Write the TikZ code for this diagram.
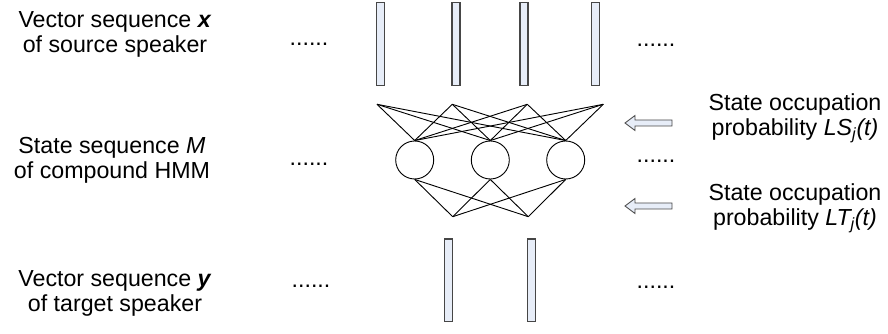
\documentclass[tikz,border=0pt]{standalone}
\usepackage{fontspec}
\setmainfont{Liberation Sans}
\usepackage{xcolor}
\usepackage{tikz}
\usetikzlibrary{arrows.meta, positioning}
\definecolor{barfill}{RGB}{231,237,248}
\definecolor{baredge}{RGB}{70,70,70}

\begin{document}
\begin{tikzpicture}[
  x=0.025cm, y=-0.025cm,
  font=\fontsize{16.5}{17.8}\selectfont,
  vecbar/.style={draw=baredge, fill=barfill, line width=0.9pt, minimum width=0.2cm, minimum height=2.07cm, inner sep=0pt},
  hmmstate/.style={draw, circle, minimum size=0.95cm, inner sep=0pt, line width=0.65pt},
  link/.style={line width=0.65pt},
  dots/.style={anchor=base, inner sep=0pt},
  side/.style={align=center, inner sep=0pt},
  occ/.style={draw=baredge, fill=barfill, line width=0.6pt, line join=miter}
]
  \useasboundingbox (0,0) rectangle (888,334);
  % vector sequences
  \node[vecbar] (x1) at (380.5,43.8) {};
  \node[vecbar] (x2) at (456,43.8) {};
  \node[vecbar] (x3) at (524,43.8) {};
  \node[vecbar] (x4) at (595.5,43.8) {};
  \node[vecbar] (y1) at (448.3,280.3) {};
  \node[vecbar] (y2) at (531.7,280.3) {};
  % compound HMM
  \coordinate (in1) at (377,104.3);
  \coordinate (in2) at (452.3,104.3);
  \coordinate (in3) at (527.3,104.3);
  \coordinate (in4) at (603.3,104.3);
  \node[hmmstate] (s1) at (414.7,160) {};
  \node[hmmstate] (s2) at (490.3,160) {};
  \node[hmmstate] (s3) at (565.7,160) {};
  \coordinate (out1) at (452.7,216.7);
  \coordinate (out2) at (528.3,216.7);
  \foreach \i in {1,...,4}
    \foreach \j in {1,2,3}
      \draw[link] (in\i) -- (s\j.north);
  \foreach \j in {1,2,3}
    \foreach \k in {1,2}
      \draw[link] (s\j.south) -- (out\k);
  % labels
  \node[side] (srclabel) at (115,34.5) {Vector sequence \textbf{\textit{x}}\\of source speaker};
  \node[side] (hmmlabel) at (112,160) {State sequence \textit{M}\\of compound HMM};
  \node[side] (tgtlabel) at (115,293) {Vector sequence \textbf{\textit{y}}\\of target speaker};
  \node[side] (lslabel) at (795,118) {State occupation\\probability \textit{LS\textsubscript{j}(t)}};
  \node[side] (ltlabel) at (795,208) {State occupation\\probability \textit{LT\textsubscript{j}(t)}};
  \node[dots] (ldots1) at (309,46) {......};
  \node[dots] (ldots2) at (309,166) {......};
  \node[dots] (ldots3) at (311,287) {......};
  \node[dots] (rdots1) at (656,47) {......};
  \node[dots] (rdots2) at (656,163) {......};
  \node[dots] (rdots3) at (656,288) {......};
  % occupation arrows
  \coordinate (occ1) at (625,123);
  \coordinate (occ2) at (625,206);
  \draw[occ] (occ1) -- ++(10,-7.5) -- ++(0,4.5) -- ++(37,0) -- ++(0,6) -- ++(-37,0) -- ++(0,4.5) -- cycle;
  \draw[occ] (occ2) -- ++(10,-7.5) -- ++(0,4.5) -- ++(37,0) -- ++(0,6) -- ++(-37,0) -- ++(0,4.5) -- cycle;
\end{tikzpicture}
\end{document}
